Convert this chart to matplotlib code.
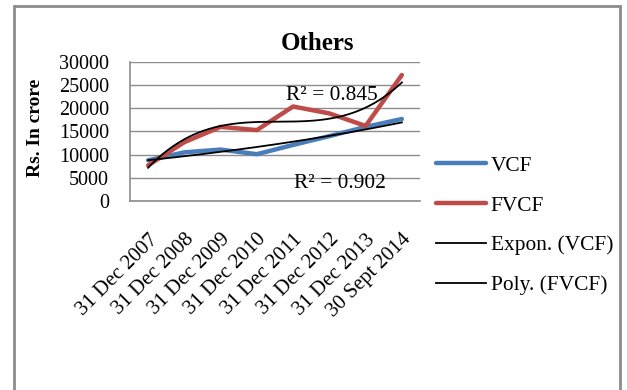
import numpy as np
import matplotlib.pyplot as plt

plt.rcParams["font.family"] = ["Liberation Serif", "DejaVu Serif"]

# values in Rs. crore
dates = ["31 Dec 2007", "31 Dec 2008", "31 Dec 2009", "31 Dec 2010",
         "31 Dec 2011", "31 Dec 2012", "31 Dec 2013", "30 Sept 2014"]
vcf = [8800, 10500, 11100, 10100, 12100, 14000, 16000, 17700]
fvcf = [7700, 12700, 16000, 15300, 20400, 18900, 16200, 27200]
r2_vcf = 0.902
r2_fvcf = 0.845

x = np.arange(1, len(dates) + 1)
xs = np.linspace(1, len(dates), 200)

# exponential trend for VCF, cubic polynomial trend for FVCF
b, a = np.polyfit(x, np.log(vcf), 1)
exp_trend = np.exp(a + b * xs)
poly_trend = np.polyval(np.polyfit(x, fvcf, 3), xs)

fig = plt.figure(figsize=(6.27, 3.9), dpi=100)
ax = fig.add_axes([130 / 627, 1 - 201 / 390, 290 / 627, 139 / 390])

ax.plot(x, vcf, color="#4a7ebb", lw=3.2, solid_capstyle="round", label="VCF")
ax.plot(x, fvcf, color="#be4b48", lw=3.2, solid_capstyle="round", label="FVCF")
ax.plot(xs, exp_trend, color="black", lw=1.3, label="Expon. (VCF)")
ax.plot(xs, poly_trend, color="black", lw=1.3, label="Poly. (FVCF)")

ax.set_xlim(0.5, len(dates) + 0.5)
ax.set_ylim(0, 30000)
ax.set_yticks(range(0, 30001, 5000))
ax.set_xticks(x)
ax.set_xticklabels(dates, rotation=45, ha="right", rotation_mode="anchor")
ax.tick_params(axis="both", length=0, labelsize=14.5)
ax.tick_params(axis="x", labelsize=15, pad=21)
ax.tick_params(axis="y", pad=15)
ax.grid(axis="y", color="#8c8c8c", lw=1)
ax.set_axisbelow(True)
for side in ["top", "right"]:
    ax.spines[side].set_visible(False)
for side in ["left", "bottom"]:
    ax.spines[side].set_color("#8c8c8c")
    ax.spines[side].set_linewidth(1.2)

fig.text(35 / 627, 1 - 128 / 390, "Rs. In crore", fontsize=14, fontweight="bold",
         rotation=90, ha="center", va="center")
fig.text(318 / 627, 1 - 43 / 390, "Others", fontsize=18, fontweight="bold",
         ha="center", va="center")

fig.text(332 / 627, 1 - 95 / 390, f"R² = {r2_fvcf}", fontsize=15.4,
         ha="center", va="center")
fig.text(340 / 627, 1 - 183 / 390, f"R² = {r2_vcf}", fontsize=15.4,
         ha="center", va="center")

fig.legend(loc="upper left", bbox_to_anchor=(425 / 627, 1 - 145 / 390),
           frameon=False, fontsize=15.4, handlelength=2.35, handletextpad=0.22,
           labelspacing=0.93, borderpad=0)

# outer chart border
fig.patches.append(plt.Rectangle((14 / 627, -0.05), 606 / 627, 1 - 6 / 390 + 0.05,
                                 transform=fig.transFigure, fill=False,
                                 edgecolor="#8c8c8c", lw=2))

fig.savefig("out.png", dpi=100)
